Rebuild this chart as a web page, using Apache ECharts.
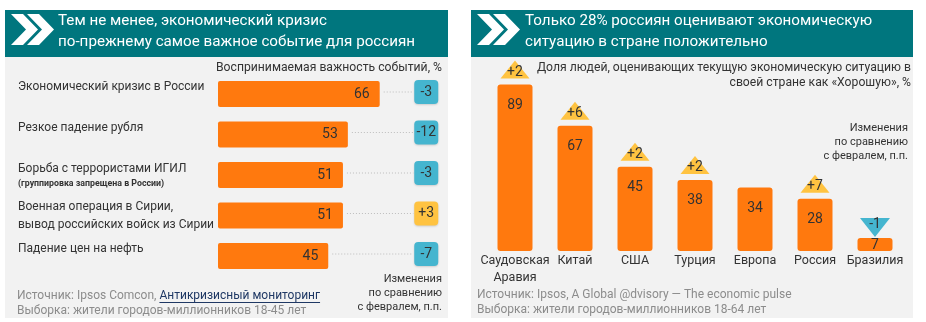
<!DOCTYPE html>
<html><head><meta charset="utf-8">
<script src="https://cdn.jsdelivr.net/npm/echarts@6/dist/echarts.min.js"></script>
<style>html,body{margin:0;padding:0;background:#fff}#c{width:926px;height:322px}</style>
</head><body><div id="c"></div>
<script>
// ---- data ----
const leftTitle = 'Тем не менее, экономический кризис\nпо-прежнему самое важное событие для россиян';
const rightTitle = 'Только 28% россиян оценивают экономическую\nситуацию в стране положительно';
const leftAxisTitle = 'Воспринимаемая важность событий, %';
const rightAxisTitle = 'Доля людей, оценивающих текущую экономическую ситуацию в\nсвоей стране как «Хорошую», %';
const changeNote = 'Изменения\nпо сравнению\nс февралем, п.п.';
const leftCategories = ['Экономический кризис в России', 'Резкое падение рубля', 'Борьба с террористами ИГИЛ', 'Военная операция в Сирии,\nвывод российских войск из Сирии', 'Падение цен на нефть'];
const leftCategoryNotes = ['', '', '(группировка запрещена в России)', '', ''];
const leftValues = [66, 53, 51, 51, 45];
const leftChanges = [-3, -12, -3, 3, -7];
const rightCategories = ['Саудовская\nАравия', 'Китай', 'США', 'Турция', 'Европа', 'Россия', 'Бразилия'];
const rightValues = [89, 67, 45, 38, 34, 28, 7];
const rightChanges = [2, 6, 2, 2, null, 7, -1];
const leftSourcePrefix = 'Источник: Ipsos Comcon, ';
const leftSourceLink = 'Антикризисный мониторинг';
const leftSample = 'Выборка: жители городов-миллионников 18-45 лет';
const rightSource = 'Источник: Ipsos, A Global @dvisory — The economic pulse';
const rightSample = 'Выборка: жители городов-миллионников 18-64 лет';

// ---- style ----
const FONT = 'Roboto, "Liberation Sans", sans-serif';
const TEAL = '#00767e', BG = '#f2f2f2', ORANGE = '#ff790e', BLUE = '#45b5cf', YELLOW = '#ffc341', TXT = '#333333', GREY = '#8c8c8c';

function measure(text, font) {
  const c = document.createElement('canvas').getContext('2d');
  c.font = font; return c.measureText(text).width;
}
function chevrons(ox) {
  const mk = (dx) => ({ type: 'polygon', shape: { points: [[ox+dx,14],[ox+dx+12,14],[ox+dx+27,29.5],[ox+dx+12,45],[ox+dx,45],[ox+dx+15,29.5]] }, style: { fill: '#fff' } });
  return [mk(6), mk(22)];
}
const srcFont = '12px ' + FONT;
const prefixW = measure(leftSourcePrefix, srcFont);
const linkW = measure(leftSourceLink, srcFont);

const chart = echarts.init(document.getElementById('c'), null, { renderer: 'canvas' });
chart.setOption({
  animation: false,
  textStyle: { fontFamily: FONT },
  graphic: [
    { type: 'rect', shape: { x: 5, y: 57, width: 443, height: 261 }, style: { fill: BG }, z: -10 },
    { type: 'rect', shape: { x: 471, y: 57, width: 442, height: 261 }, style: { fill: BG }, z: -10 },
    { type: 'rect', shape: { x: 5, y: 10, width: 443, height: 47 }, style: { fill: TEAL }, z: -10 },
    { type: 'rect', shape: { x: 471, y: 10, width: 442, height: 47 }, style: { fill: TEAL }, z: -10 },
    ...chevrons(5), ...chevrons(471),
    { type: 'text', x: 58, y: 10.5, style: { text: leftTitle, font: '15.2px ' + FONT, fill: '#fff', lineHeight: 21, verticalAlign: 'top' } },
    { type: 'text', x: 525, y: 10.5, style: { text: rightTitle, font: '15.2px ' + FONT, fill: '#fff', lineHeight: 21, verticalAlign: 'top' } },
    { type: 'text', x: 442, y: 68, style: { text: leftAxisTitle, font: '12.2px ' + FONT, fill: TXT, align: 'right', verticalAlign: 'middle' } },
    { type: 'text', x: 911, y: 60.5, style: { text: rightAxisTitle, font: '12.2px ' + FONT, fill: TXT, align: 'right', verticalAlign: 'top', lineHeight: 15 } },
    { type: 'text', x: 442, y: 272, style: { text: changeNote, font: '11px ' + FONT, fill: TXT, align: 'right', verticalAlign: 'top', lineHeight: 14 } },
    { type: 'text', x: 908, y: 121, style: { text: changeNote, font: '11px ' + FONT, fill: TXT, align: 'right', verticalAlign: 'top', lineHeight: 14 } },
    { type: 'text', x: 17, y: 296, style: { text: leftSourcePrefix, font: srcFont, fill: GREY, verticalAlign: 'middle' } },
    { type: 'text', x: 17 + prefixW, y: 296, style: { text: leftSourceLink, font: srcFont, fill: '#1f3864', verticalAlign: 'middle' } },
    { type: 'line', shape: { x1: 17 + prefixW, y1: 302.5, x2: 17 + prefixW + linkW, y2: 302.5 }, style: { stroke: '#1f3864', lineWidth: 1 } },
    { type: 'text', x: 17, y: 311, style: { text: leftSample, font: srcFont, fill: GREY, verticalAlign: 'middle' } },
    { type: 'text', x: 477, y: 295, style: { text: rightSource, font: srcFont, fill: GREY, verticalAlign: 'middle' } },
    { type: 'text', x: 477, y: 310, style: { text: rightSample, font: srcFont, fill: GREY, verticalAlign: 'middle' } }
  ],
  grid: [
    { left: 218, top: 73.75, width: 220.5, height: 202.5 },
    { left: 485, top: 64, width: 420, height: 187 }
  ],
  xAxis: [
    { gridIndex: 0, type: 'value', min: 0, max: 90, show: false },
    { gridIndex: 1, type: 'category', data: rightCategories, axisLine: { show: false }, axisTick: { show: false },
      axisLabel: { margin: 1, fontSize: 12.5, lineHeight: 17, color: TXT, interval: 0 } }
  ],
  yAxis: [
    { gridIndex: 0, type: 'category', inverse: true, data: leftCategories, axisLine: { show: false }, axisTick: { show: false },
      axisLabel: { align: 'left', margin: 200, interval: 0,
        formatter: (v, i) => {
          if (leftCategoryNotes[i]) return '{a|' + v + '}\n{s|' + leftCategoryNotes[i] + '}';
          if (v.indexOf('\n') >= 0) return v.split('\n').map(l => '{a|' + l + '}').join('\n');
          return '{a|' + v + '}\n{g| }';
        },
        rich: { a: { fontSize: 12, lineHeight: 18, color: TXT }, s: { fontSize: 8.8, fontWeight: 'bold', lineHeight: 13, color: TXT }, g: { fontSize: 10, lineHeight: 14 } } } },
    { gridIndex: 1, type: 'value', min: 0, max: 100, show: false }
  ],
  series: [
    { type: 'bar', xAxisIndex: 0, yAxisIndex: 0, data: leftValues, barWidth: 26,
      itemStyle: { color: ORANGE, borderRadius: 2 },
      label: { show: true, position: 'insideRight', distance: 10, fontSize: 14, color: TXT } },
    { type: 'custom', xAxisIndex: 0, yAxisIndex: 0,
      data: leftValues.map((v, i) => [v, i, leftChanges[i]]),
      renderItem: (params, api) => {
        const end = api.coord([api.value(0), api.value(1)]);
        const box = api.coord([85, api.value(1)]);
        const ch = api.value(2);
        const cy = box[1] - 2;
        return { type: 'group', children: [
          { type: 'line', shape: { x1: end[0] + 4, y1: cy, x2: box[0] - 13, y2: cy }, style: { stroke: '#bdbdbd', lineWidth: 1, lineDash: [1, 2] } },
          { type: 'rect', shape: { x: box[0] - 12, y: cy - 12, width: 24, height: 24, r: 4 }, style: { fill: ch > 0 ? YELLOW : BLUE, shadowBlur: 2, shadowColor: 'rgba(0,0,0,0.15)', shadowOffsetY: 1 } },
          { type: 'text', x: box[0], y: cy, style: { text: (ch > 0 ? '+' : '') + ch, font: '14px ' + FONT, fill: TXT, align: 'center', verticalAlign: 'middle' } }
        ] };
      } },
    { type: 'bar', xAxisIndex: 1, yAxisIndex: 1, barWidth: 35,
      data: rightValues.map(v => v < 15 ? { value: v, label: { distance: 1 } } : v),
      itemStyle: { color: ORANGE, borderRadius: 3 },
      label: { show: true, position: 'insideTop', distance: 14, fontSize: 14, color: TXT } },
    { type: 'custom', xAxisIndex: 1, yAxisIndex: 1,
      data: rightChanges.map((c, i) => c == null ? null : [i, rightValues[i], c]).filter(Boolean),
      renderItem: (params, api) => {
        const p = api.coord([api.value(0), api.value(1)]);
        const ch = api.value(2);
        const x = p[0], top = p[1];
        if (ch > 0) {
          return { type: 'group', children: [
            { type: 'polygon', shape: { points: [[x - 14.5, top - 6], [x + 14.5, top - 6], [x, top - 24]] }, style: { fill: YELLOW } },
            { type: 'text', x: x, y: top - 12, style: { text: '+' + ch, font: '14px ' + FONT, fill: TXT, align: 'center', verticalAlign: 'middle' } }
          ] };
        }
        return { type: 'group', children: [
          { type: 'polygon', shape: { points: [[x - 15, top - 20], [x + 15, top - 20], [x, top - 1]] }, style: { fill: BLUE } },
          { type: 'text', x: x, y: top - 13, style: { text: String(ch), font: '14px ' + FONT, fill: TXT, align: 'center', verticalAlign: 'middle' } }
        ] };
      } }
  ]
});
</script></body></html>
